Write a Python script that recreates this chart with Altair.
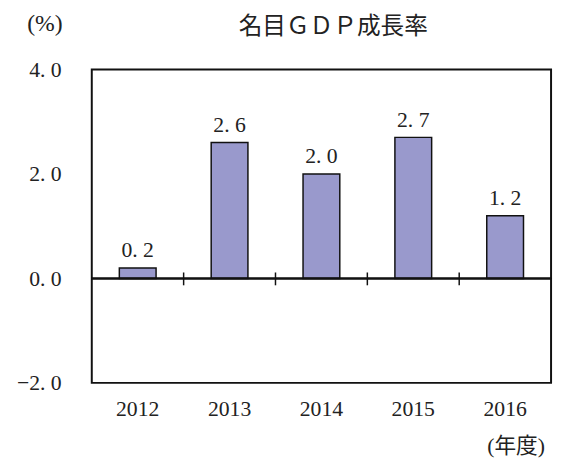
import altair as alt
import pandas as pd

years = ["2012", "2013", "2014", "2015", "2016"]
growth = [0.2, 2.6, 2.0, 2.7, 1.2]
y_ticks = [-2.0, 0.0, 2.0, 4.0]
boundaries = ["2013", "2014", "2015", "2016"]

df = pd.DataFrame({"year": years, "value": growth})
df_b = pd.DataFrame({"year": boundaries})

SERIF = "'Liberation Serif', 'Noto Sans CJK JP', serif"
FS = 22

y_enc = alt.Y(
    "value:Q",
    scale=alt.Scale(domain=[-2, 4], nice=False),
    axis=alt.Axis(
        values=y_ticks,
        labelExpr="replace(format(datum.value, '.1f'), '.', '. ')",
        ticks=False, tickSize=0, domain=False, grid=False,
        labelPadding=31, labelFont=SERIF, labelFontSize=FS, labelColor="#222",
        title="(%)", titleAngle=0, titleX=-48, titleY=-47,
        titleAlign="center", titleBaseline="middle",
        titleFont=SERIF, titleFontSize=24, titleFontWeight="normal", titleColor="#222",
    ),
)

x_enc = alt.X(
    "year:N",
    scale=alt.Scale(paddingInner=0, paddingOuter=0),
    axis=alt.Axis(
        labelAngle=0, ticks=False, tickSize=0, domain=False, grid=False,
        labelPadding=16, labelFont=SERIF, labelFontSize=FS, labelColor="#222",
        title="(年度)", titleX=430, titleY=64, titleAlign="center",
        titleBaseline="middle", titleFont=SERIF, titleFontSize=FS,
        titleFontWeight="normal", titleColor="#222",
    ),
)

bars = alt.Chart(df).mark_bar(
    width=alt.RelativeBandSize(0.4), color="#9999CC", stroke="#111", strokeWidth=1.5
).encode(x=x_enc, y=y_enc)

labels = alt.Chart(df).transform_calculate(
    label="replace(format(datum.value, '.1f'), '.', '. ')"
).mark_text(
    baseline="alphabetic", dy=-11, font=SERIF, fontSize=FS, color="#222"
).encode(x=x_enc, y=y_enc, text="label:N")

zero = alt.Chart(df).mark_rule(color="#111", strokeWidth=1.5).encode(
    y=alt.datum(0)
)

ticks = alt.Chart(df_b).mark_rule(color="#111", strokeWidth=1.5).encode(
    x=alt.X("year:N", bandPosition=0),
    y=alt.value(206),
    y2=alt.value(219),
)

chart = alt.layer(bars, zero, ticks, labels).properties(
    width=466,
    height=318,
    autosize=alt.AutoSizeParams(type="none"),
    padding={"left": 85, "top": 59, "right": 4, "bottom": 82},
    title=alt.Title(
        "名目ＧＤＰ成長率", font=SERIF, fontSize=24, fontWeight="normal",
        color="#222", offset=-28, dx=12, anchor="middle",
    ),
).configure_view(stroke="#111", strokeWidth=2)

chart.save("out.html", embed_options={"renderer": "svg", "actions": False})
